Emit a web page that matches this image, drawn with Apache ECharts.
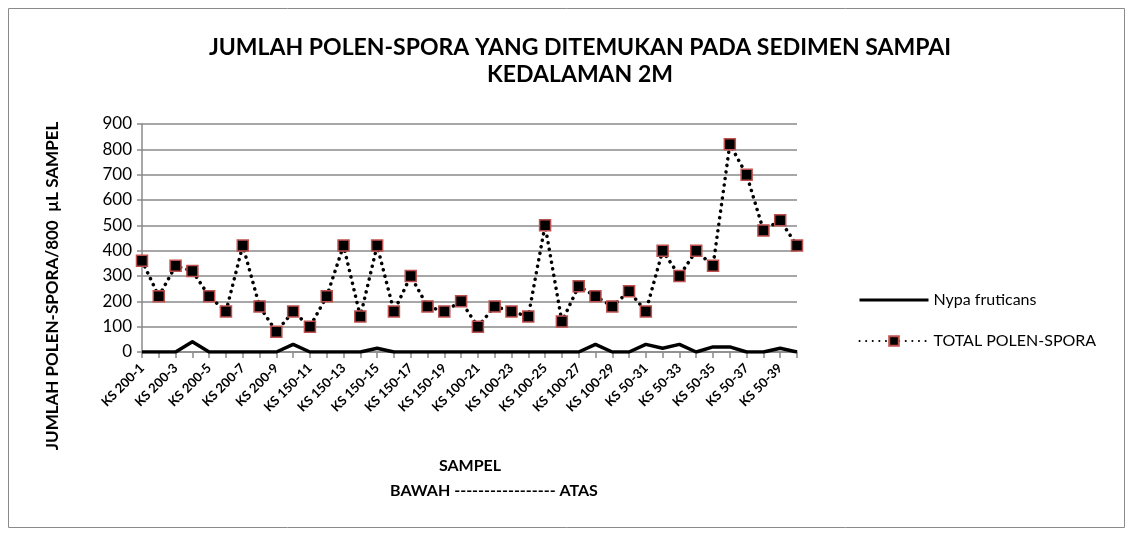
<!DOCTYPE html>
<html><head><meta charset="utf-8">
<script src="https://cdn.jsdelivr.net/npm/echarts@6/dist/echarts.min.js"></script>
<style>html,body{margin:0;padding:0;background:#fff}#c{width:1131px;height:536px}</style>
</head><body><div id="c"></div>
<script>
const categories = [
  'KS 200-1','KS 200-2','KS 200-3','KS 200-4','KS 200-5','KS 200-6','KS 200-7','KS 200-8','KS 200-9','KS 200-10',
  'KS 150-11','KS 150-12','KS 150-13','KS 150-14','KS 150-15','KS 150-16','KS 150-17','KS 150-18','KS 150-19','KS 150-20',
  'KS 100-21','KS 100-22','KS 100-23','KS 100-24','KS 100-25','KS 100-26','KS 100-27','KS 100-28','KS 100-29','KS 100-30',
  'KS 50-31','KS 50-32','KS 50-33','KS 50-34','KS 50-35','KS 50-36','KS 50-37','KS 50-38','KS 50-39','KS 50-40'
];
const nypa = [0,0,0,40,0,0,0,0,0,30, 0,0,0,0,15,0,0,0,0,0, 0,0,0,0,0,0,0,30,0,0, 30,15,30,0,20,20,0,0,15,0];
const total = [360,220,340,320,220,160,420,180,80,160, 100,220,420,140,420,160,300,180,160,200, 100,180,160,140,500,120,260,220,180,240, 160,400,300,400,340,820,700,480,520,420];
const yTicks = {min:0, max:900, interval:100};
const titleText = 'JUMLAH POLEN-SPORA YANG DITEMUKAN PADA SEDIMEN SAMPAI\nKEDALAMAN 2M';
const yName = 'JUMLAH POLEN-SPORA/800  µL SAMPEL';
const xName = 'SAMPEL';
const xSub = 'BAWAH ----------------- ATAS';

const F = 'Lato, "Open Sans", sans-serif';
const chart = echarts.init(document.getElementById('c'));
chart.setOption({
  animation:false,
  graphic:[
    {type:'rect', shape:{x:8.5,y:8.5,width:1116,height:519}, style:{fill:'none',stroke:'#8a8a8a',lineWidth:1}},
    {type:'text', x:53, y:286, rotation:Math.PI/2,
      style:{text:yName, font:'bold 17px '+F, fill:'#000', align:'center', verticalAlign:'middle'}},
    {type:'text', x:470, y:466,
      style:{text:xName, font:'bold 16px '+F, fill:'#000', align:'center', verticalAlign:'middle'}},
    {type:'text', x:494, y:491,
      style:{text:xSub, font:'bold 16px '+F, fill:'#000', align:'center', verticalAlign:'middle'}}
  ],
  title:{text:titleText, left:575, textAlign:'center', top:29,
    textStyle:{fontFamily:F, fontWeight:'bold', fontSize:23, color:'#000', lineHeight:27}},
  legend:{orient:'vertical', left:853, top:287, itemGap:25, itemWidth:69, itemHeight:12,
    textStyle:{fontFamily:F, fontSize:16, color:'#000'},
    data:[{name:'Nypa fruticans', itemStyle:{opacity:0}, lineStyle:{width:3}},'TOTAL POLEN-SPORA']},
  grid:{left:142, right:334, top:124, bottom:184},
  xAxis:{type:'category', data:categories, boundaryGap:false,
    axisLine:{lineStyle:{color:'#8a8a8a', width:1.5}},
    axisTick:{show:true, interval:0, length:6, lineStyle:{color:'#8a8a8a', width:1.5}},
    axisLabel:{interval:1, rotate:45, fontFamily:F, fontWeight:'bold', fontSize:13, color:'#000', margin:14}},
  yAxis:{type:'value', min:yTicks.min, max:yTicks.max, interval:yTicks.interval,
    axisLine:{show:true, lineStyle:{color:'#8a8a8a', width:1.5}},
    axisTick:{show:true, length:5, lineStyle:{color:'#8a8a8a', width:1.5}},
    splitLine:{lineStyle:{color:'#8a8a8a', width:1.5}},
    axisLabel:{fontFamily:F, fontSize:17, color:'#000', margin:10}},
  series:[
    {name:'Nypa fruticans', type:'line', data:nypa, symbol:'none',
      lineStyle:{color:'#000', width:3.5, join:'round'}, itemStyle:{color:'#000'}, z:3},
    {name:'TOTAL POLEN-SPORA', type:'line', data:total, symbol:'rect', symbolSize:11, showAllSymbol:true,
      lineStyle:{color:'#000', width:3.5, type:[0.1,6.5], cap:'round'},
      itemStyle:{color:'#000', borderColor:'#c0504d', borderWidth:1.5}, z:4}
  ]
});
</script></body></html>
